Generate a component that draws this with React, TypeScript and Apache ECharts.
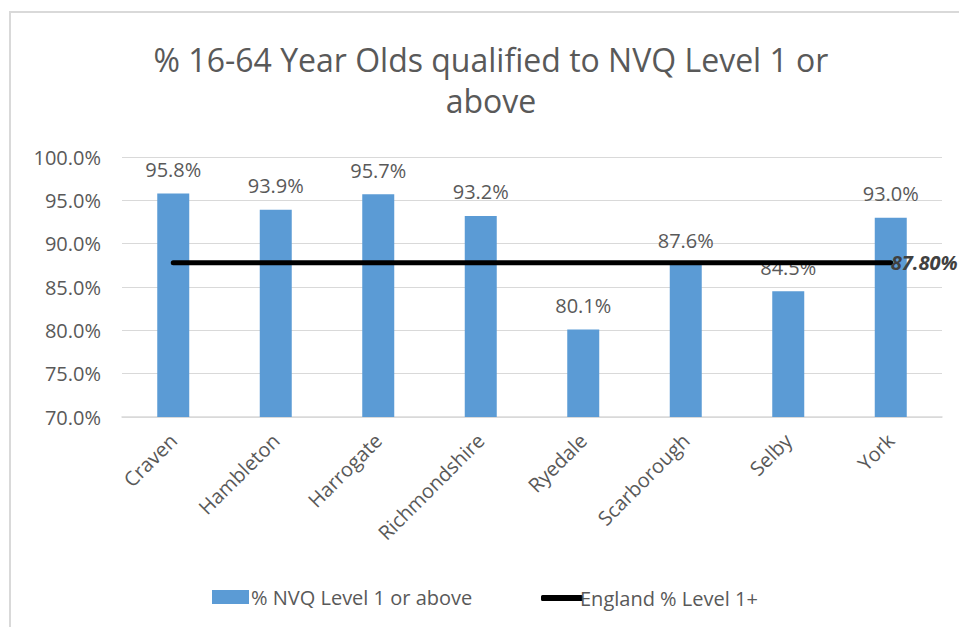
import React, { useEffect, useRef } from "react";
import * as echarts from "echarts";

const categories = ["Craven", "Hambleton", "Harrogate", "Richmondshire", "Ryedale", "Scarborough", "Selby", "York"];
const nvqValues = [95.8, 93.9, 95.7, 93.2, 80.1, 87.6, 84.5, 93.0];
const englandValue = 87.8;
const englandValues = categories.map(() => englandValue);

const FONT = "'Open Sans', 'Noto Sans', sans-serif";
const GREY = "#595959";

export default function App() {
  const ref = useRef<HTMLDivElement>(null);
  useEffect(() => {
    if (!ref.current) return;
    const chart = echarts.init(ref.current, undefined, { renderer: "svg" });
    chart.setOption({
      animation: false,
      backgroundColor: "#ffffff",
      textStyle: { fontFamily: FONT },
      title: {
        text: "% 16-64 Year Olds qualified to NVQ Level 1 or\nabove",
        left: 486,
        textAlign: "center",
        top: 34,
        textStyle: { fontFamily: FONT, fontSize: 32, fontWeight: "normal", color: GREY, lineHeight: 41 },
      },
      graphic: [
        {
          type: "polyline",
          shape: { points: [[10, 640], [10, 12], [970, 12]] },
          style: { stroke: "#d9d9d9", lineWidth: 2, fill: "none" },
          silent: true,
        },
      ],
      legend: [
        {
          top: 582,
          left: 207,
          itemWidth: 37,
          itemHeight: 14,
          itemGap: 0,
          textStyle: { fontFamily: FONT, fontSize: 20, color: GREY, padding: [0, 0, 0, -3] },
          data: [{ name: "% NVQ Level 1 or above", icon: "rect" }],
        },
        {
          top: 583,
          left: 536,
          itemWidth: 42,
          itemHeight: 6,
          itemGap: 0,
          textStyle: { fontFamily: FONT, fontSize: 20, color: GREY, padding: [0, 0, 0, -8] },
          data: [{ name: "England % Level 1+", icon: "roundRect" }],
        },
      ],
      grid: { left: 122, right: 17, top: 157, bottom: 210, containLabel: false },
      xAxis: {
        type: "category",
        data: categories,
        axisTick: { show: false },
        axisLine: { lineStyle: { color: "#d9d9d9", width: 1.5 } },
        axisLabel: { rotate: 45, fontFamily: FONT, fontSize: 20, color: GREY, margin: 20, interval: 0 },
      },
      yAxis: {
        type: "value",
        min: 70,
        max: 100,
        interval: 5,
        axisLine: { show: false },
        axisTick: { show: false },
        splitLine: { lineStyle: { color: "#d9d9d9", width: 1 } },
        axisLabel: {
          formatter: (v: number) => v.toFixed(1) + "%",
          fontFamily: FONT,
          fontSize: 20,
          color: GREY,
          margin: 21,
        },
      },
      series: [
        {
          name: "% NVQ Level 1 or above",
          type: "bar",
          data: nvqValues,
          barWidth: 32,
          itemStyle: { color: "#5B9BD5" },
          label: {
            show: true,
            position: "top",
            distance: 14,
            formatter: (p: any) => p.value.toFixed(1) + "%",
            fontFamily: FONT,
            fontSize: 20,
            color: GREY,
          },
          z: 2,
        },
        {
          name: "England % Level 1+",
          type: "line",
          data: englandValues,
          symbol: "none",
          lineStyle: { color: "#000000", width: 5, cap: "round" },
          itemStyle: { color: "#000000" },
          z: 3,
          endLabel: {
            show: true,
            formatter: () => englandValue.toFixed(2) + "%",
            fontFamily: FONT,
            fontSize: 20,
            fontWeight: "bold",
            fontStyle: "italic",
            color: "#404040",
            distance: 0,
          },
        },
      ],
    });
    return () => chart.dispose();
  }, []);
  return <div ref={ref} style={{ position: "absolute", left: 0, top: 0, width: 959, height: 627 }} />;
}
